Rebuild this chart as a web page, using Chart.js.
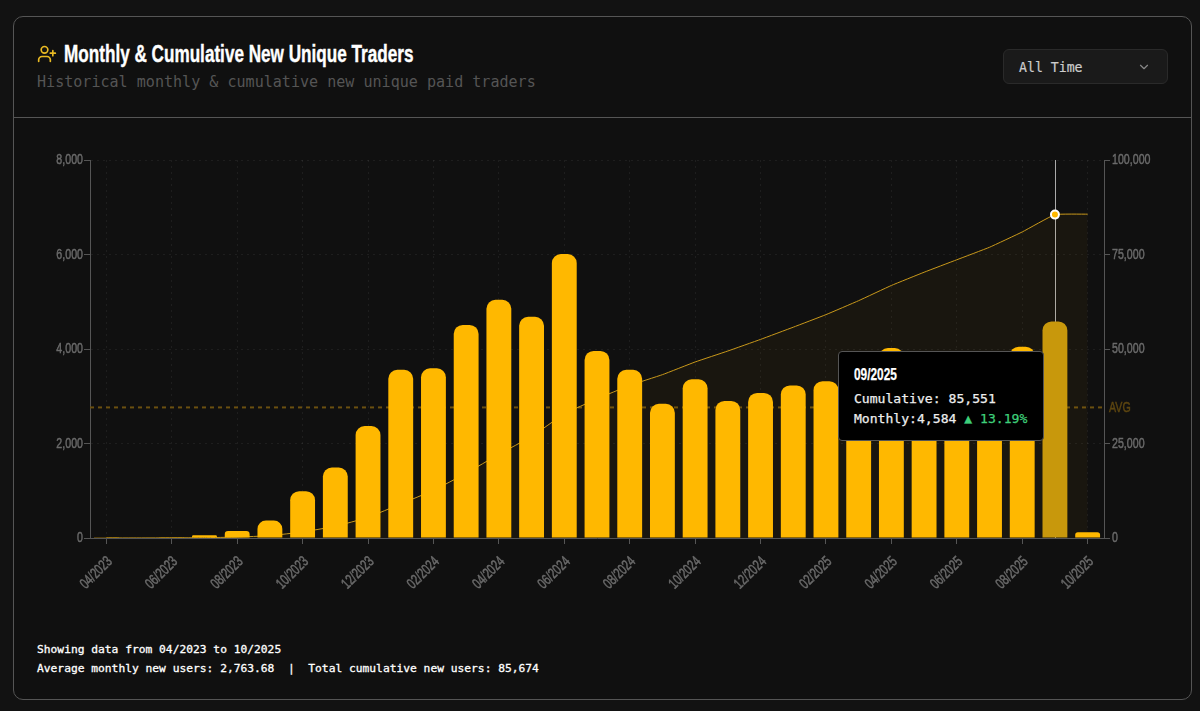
<!DOCTYPE html>
<html>
<head>
<meta charset="utf-8">
<title>Monthly & Cumulative New Unique Traders</title>
<script src="https://cdn.jsdelivr.net/npm/chart.js@4"></script>
<style>
  html, body { margin: 0; width: 1200px; height: 711px; overflow: hidden; background: #121212; }
  body { position: relative; font-family: "DejaVu Sans Mono", monospace; }
  .card { position: absolute; left: 13px; top: 16px; width: 1177px; height: 682px; background: #101010; border: 1px solid #555; border-radius: 10px; }
  .divider { position: absolute; left: 14px; top: 117px; width: 1177px; height: 1px; background: #555; }
  .icon { position: absolute; left: 37px; top: 44px; width: 20px; height: 20px; }
  .title { position: absolute; left: 64px; top: 39px; font: bold 24px "Liberation Sans", sans-serif; color: #fff; white-space: nowrap; line-height: 30px; transform: scaleX(0.714); transform-origin: left center; -webkit-text-stroke: 0.4px #fff; }
  .subtitle { position: absolute; left: 37px; top: 72px; font-size: 15.07px; color: #555; white-space: nowrap; line-height: 20px; }
  .select { position: absolute; left: 1003px; top: 49px; width: 163px; height: 33px; background: #1a1a1a; border: 1px solid #2a2a2a; border-radius: 6px; }
  .select span { position: absolute; left: 15px; top: 9px; font-size: 13.2px; line-height: 17px; color: #ccc; -webkit-text-stroke: 0.2px #ccc; }
  .select svg { position: absolute; left: 133px; top: 10px; width: 14px; height: 14px; }
  .chart-wrap { position: absolute; left: 14px; top: 118px; width: 1176px; height: 522px; }
  .footer { position: absolute; left: 37px; top: 640px; font-size: 11.28px; line-height: 19px; color: #fff; white-space: pre; -webkit-text-stroke: 0.3px #fff; }
  #tip { position: absolute; width: 204px; height: 88px; background: #000; border: 1px solid #555; border-radius: 4px; color: #eee; font-size: 13.1px; white-space: nowrap; -webkit-text-stroke: 0.25px; }
  #tip .t { position: absolute; left: 15px; top: 14px; font: bold 16px "Liberation Sans", sans-serif; color: #fff; transform: scaleX(0.74); transform-origin: left center; }
  #tip .c { position: absolute; left: 15px; top: 39px; }
  #tip .m { position: absolute; left: 15px; top: 59px; }
  #tip .up { color: #3ecf7a; }
</style>
</head>
<body>
<div class="card"></div>
<div class="divider"></div>
<svg class="icon" viewBox="0 0 24 24" fill="none" stroke="#e8b923" stroke-width="2" stroke-linecap="round" stroke-linejoin="round">
  <path d="M16 21v-2a4 4 0 0 0-4-4H6a4 4 0 0 0-4 4v2"/><circle cx="9" cy="7" r="4"/><line x1="19" y1="8" x2="19" y2="14"/><line x1="22" y1="11" x2="16" y2="11"/>
</svg>
<div class="title">Monthly &amp; Cumulative New Unique Traders</div>
<div class="subtitle">Historical monthly &amp; cumulative new unique paid traders</div>
<div class="select"><span>All Time</span>
  <svg viewBox="0 0 24 24" fill="none" stroke="#888" stroke-width="2" stroke-linecap="round" stroke-linejoin="round"><polyline points="6 9 12 15 18 9"/></svg>
</div>
<div class="chart-wrap"><canvas id="chart"></canvas><div id="tip"></div></div>
<div class="footer">Showing data from 04/2023 to 10/2025
Average monthly new users: 2,763.68  |  Total cumulative new users: 85,674</div>

<script>
const months = ['04/2023','05/2023','06/2023','07/2023','08/2023','09/2023','10/2023','11/2023','12/2023',
  '01/2024','02/2024','03/2024','04/2024','05/2024','06/2024','07/2024','08/2024','09/2024','10/2024','11/2024','12/2024',
  '01/2025','02/2025','03/2025','04/2025','05/2025','06/2025','07/2025','08/2025','09/2025','10/2025'];
const monthly = [5,10,15,60,150,370,990,1490,2370,
  3560,3590,4510,5040,4680,6010,3960,3560,2840,3360,2900,3070,
  3230,3320,3700,4020,3500,3300,3307,4050,4584,123];
const cumulative = [5,15,30,90,240,610,1600,3090,5460,
  9020,12610,17120,22160,26840,32850,36810,40370,43210,46570,49470,52540,
  55770,59090,62790,66810,70310,73610,76917,80967,85551,85674];
const average = 2763.68;
const activeIndex = 29;

const axisColor = '#555';
const tickColor = '#6a6a6a';
const gridColor = 'rgba(255,255,255,0.06)';
const tickFont = '15px "Liberation Sans", sans-serif';
const squeeze = 0.71; // no condensed font installed, so labels get squeezed by hand

function narrowText(ctx, text, x, y, align, angle) {
  ctx.save();
  ctx.translate(x, y);
  if (angle) ctx.rotate(angle);
  ctx.scale(squeeze, 1);
  ctx.textAlign = align;
  ctx.textBaseline = 'middle';
  ctx.strokeStyle = ctx.fillStyle;
  ctx.lineWidth = 0.5;
  ctx.strokeText(text, 0, 0);
  ctx.fillText(text, 0, 0);
  ctx.restore();
}

// avg line and crosshair sit behind the bars
const overlays = {
  id: 'overlays',
  beforeDatasetsDraw(chart) {
    const { ctx, chartArea, scales } = chart;
    const y = scales.y.getPixelForValue(average);
    ctx.save();
    ctx.strokeStyle = '#6b5010';
    ctx.lineWidth = 2;
    ctx.setLineDash([4, 4]);
    ctx.beginPath();
    ctx.moveTo(chartArea.left, y);
    ctx.lineTo(chartArea.right, y);
    ctx.stroke();
    ctx.setLineDash([]);
    ctx.fillStyle = '#5c4510';
    ctx.font = tickFont;
    narrowText(ctx, 'AVG', chartArea.right + 5, y, 'left');
    const x = scales.x.getPixelForValue(activeIndex);
    ctx.strokeStyle = '#aaa';
    ctx.lineWidth = 1;
    ctx.beginPath();
    ctx.moveTo(Math.round(x) + 0.5, chartArea.top);
    ctx.lineTo(Math.round(x) + 0.5, chartArea.bottom);
    ctx.stroke();
    ctx.restore();
  }
};

const axisLabels = {
  id: 'axisLabels',
  afterDraw(chart) {
    const { ctx, scales, chartArea } = chart;
    ctx.save();
    ctx.fillStyle = tickColor;
    ctx.font = tickFont;
    scales.x.ticks.forEach((t, i) => {
      narrowText(ctx, t.label, scales.x.getPixelForTick(i) - 10, chartArea.bottom + 35, 'center', -Math.PI / 4);
    });
    scales.y.ticks.forEach((t, i) => {
      narrowText(ctx, t.label, chartArea.left - 7, scales.y.getPixelForTick(i), 'right');
    });
    scales.y1.ticks.forEach((t, i) => {
      narrowText(ctx, t.label, chartArea.right + 8, scales.y1.getPixelForTick(i), 'left');
    });
    ctx.restore();
  }
};

function renderTip({ chart, tooltip }) {
  const el = document.getElementById('tip');
  if (!tooltip.dataPoints || !tooltip.dataPoints.length) return;
  const i = tooltip.dataPoints[0].dataIndex;
  const change = (monthly[i] - monthly[i - 1]) / monthly[i - 1] * 100;
  el.innerHTML = '<div class="t">' + months[i] + '</div>' +
    '<div class="c">Cumulative: ' + cumulative[i].toLocaleString('en-US') + '</div>' +
    '<div class="m">Monthly:' + monthly[i].toLocaleString('en-US') +
    ' <span class="up">▲ ' + change.toFixed(2) + '%</span></div>';
  el.style.left = (chart.scales.x.getPixelForValue(i) - 217) + 'px';
  el.style.top = (chart.chartArea.top + 191) + 'px';
}

const chart = new Chart(document.getElementById('chart'), {
  data: {
    labels: months,
    datasets: [
      {
        type: 'bar',
        data: monthly,
        yAxisID: 'y',
        order: 1,
        backgroundColor: '#ffb800',
        hoverBackgroundColor: '#c8980c',
        barPercentage: 0.76,
        categoryPercentage: 1,
        borderSkipped: 'bottom',
        borderRadius: { topLeft: 9, topRight: 9, bottomLeft: 0, bottomRight: 0 }
      },
      {
        type: 'line',
        data: cumulative,
        yAxisID: 'y1',
        order: 2,
        borderColor: '#c9991b',
        borderWidth: 1,
        backgroundColor: 'rgba(255,184,0,0.04)',
        fill: 'origin',
        tension: 0.1,
        pointRadius: 0,
        pointHoverRadius: 4,
        pointHoverBorderWidth: 2,
        pointHoverBackgroundColor: '#ffb800',
        pointHoverBorderColor: '#fff'
      }
    ]
  },
  options: {
    responsive: true,
    maintainAspectRatio: false,
    animation: false,
    events: [],
    layout: { padding: { top: 42 } },
    plugins: {
      legend: { display: false },
      tooltip: { enabled: false, mode: 'index', intersect: false, external: renderTip }
    },
    scales: {
      x: {
        afterFit: s => { s.height = 102; },
        afterBuildTicks: s => { s.ticks = s.ticks.filter((t, i) => i % 2 === 0); },
        grid: { offset: false, color: gridColor, tickColor: axisColor, tickLength: 6 },
        border: { color: axisColor, dash: [2, 4] },
        ticks: { autoSkip: false, display: false }
      },
      y: {
        position: 'left',
        min: 0,
        max: 8000,
        afterFit: s => { s.width = 76; },
        grid: { color: gridColor, tickColor: axisColor, tickLength: 6 },
        border: { color: axisColor, dash: [2, 4] },
        ticks: { stepSize: 2000, display: false, callback: v => v.toLocaleString('en-US') }
      },
      y1: {
        position: 'right',
        min: 0,
        max: 100000,
        afterFit: s => { s.width = 86; },
        grid: { drawOnChartArea: false, tickColor: axisColor, tickLength: 6 },
        border: { color: axisColor },
        ticks: { stepSize: 25000, display: false, callback: v => v.toLocaleString('en-US') }
      }
    }
  },
  plugins: [overlays, axisLabels]
});

const active = [{ datasetIndex: 0, index: activeIndex }, { datasetIndex: 1, index: activeIndex }];
chart.setActiveElements(active);
chart.tooltip.setActiveElements(active, { x: chart.scales.x.getPixelForValue(activeIndex), y: chart.chartArea.top });
chart.update();
</script>
</body>
</html>
